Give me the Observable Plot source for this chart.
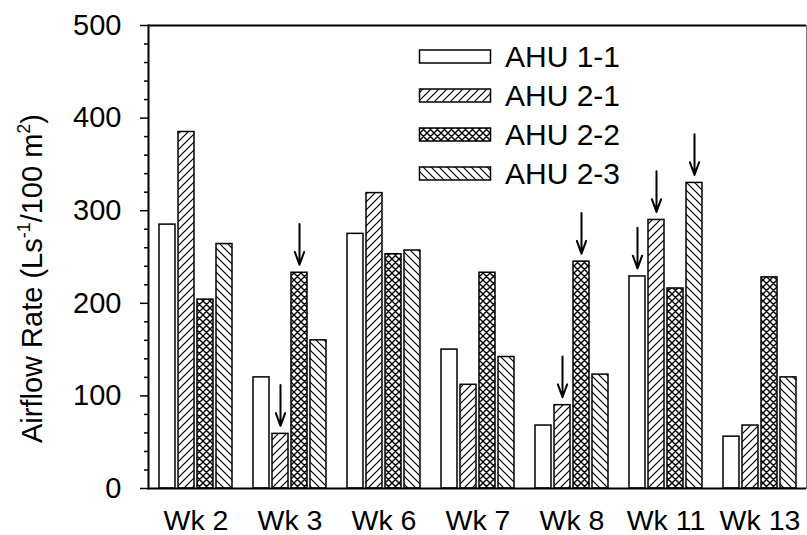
<!DOCTYPE html>
<html>
<head>
<meta charset="utf-8">
<script src="https://cdn.jsdelivr.net/npm/d3@7"></script>
<script src="https://cdn.jsdelivr.net/npm/@observablehq/plot@0.6"></script>
<style>
  html, body { margin: 0; padding: 0; background: white; }
  #chart { width: 807px; height: 535px; overflow: hidden; }
</style>
</head>
<body>
<div id="chart"></div>
<script>
const weeks = ["Wk 2", "Wk 3", "Wk 6", "Wk 7", "Wk 8", "Wk 11", "Wk 13"];
const series = ["AHU 1-1", "AHU 2-1", "AHU 2-2", "AHU 2-3"];
const ahu11 = [285, 120, 275, 150, 68, 229, 56];
const ahu21 = [385, 59, 319, 112, 90, 290, 68];
const ahu22 = [204, 233, 253, 233, 245, 216, 228];
const ahu23 = [264, 160, 257, 142, 123, 330, 120];
const arrowWeeks = ["Wk 3", "Wk 3", "Wk 8", "Wk 8", "Wk 11", "Wk 11", "Wk 11"];
const arrowSeries = ["AHU 2-1", "AHU 2-2", "AHU 2-1", "AHU 2-2", "AHU 1-1", "AHU 2-1", "AHU 2-3"];
const yTicks = [0, 100, 200, 300, 400, 500];
const yMinorTicks = d3.range(0, 501, 20).filter(v => v % 100 !== 0);

const valuesBySeries = [ahu11, ahu21, ahu22, ahu23];
const rows = [];
series.forEach((s, i) => weeks.forEach((w, j) => rows.push({week: w, series: s, value: valuesBySeries[i][j]})));
const arrows = arrowWeeks.map((w, k) => rows.find(r => r.week === w && r.series === arrowSeries[k]));

const FONT = "'Liberation Sans', Arial, Helvetica, sans-serif";
const BAND = 73, BARW = 16, STEP = 19;

const marks = [];
series.forEach((s, i) => {
  marks.push(Plot.barY(rows.filter(r => r.series === s), {
    x: "week", y: "value",
    fill: `url(#pat${i})`, stroke: "black", strokeWidth: 1.5,
    insetLeft: i * STEP, insetRight: BAND - i * STEP - BARW
  }));
});
series.forEach((s, i) => {
  const data = arrows.filter(a => a.series === s);
  if (!data.length) return;
  marks.push(Plot.arrow(data, {
    x: "week",
    y1: d => d.value + 44, y2: d => d.value,
    dx: i * STEP + BARW / 2 - BAND / 2, dy: -8,
    stroke: "black", strokeWidth: 2, headLength: 20, headAngle: 40
  }));
});

const plot = Plot.plot({
  width: 807, height: 535,
  marginLeft: 148, marginRight: 1, marginTop: 25, marginBottom: 47,
  style: {fontFamily: FONT, background: "white", color: "black", overflow: "visible"},
  x: {domain: weeks, paddingInner: 0.226, paddingOuter: 0.106, axis: null},
  y: {domain: [0, 500], axis: null},
  marks: [
    ...marks,
    Plot.ruleY([0], {stroke: "black", strokeWidth: 2}),
    Plot.ruleY([500], {stroke: "black", strokeWidth: 2}),
    Plot.frame({anchor: "left", stroke: "black", strokeWidth: 2}),
    Plot.frame({anchor: "right", stroke: "#777", strokeWidth: 1}),
    Plot.axisY(yTicks, {tickSize: 8, tickPadding: 19, fontSize: 29, strokeWidth: 1.5, label: null}),
    Plot.axisY(yMinorTicks, {tickSize: 4, tickFormat: () => "", strokeWidth: 1.5, label: null}),
    Plot.axisX({tickSize: 0, tickPadding: 21, fontSize: 28.5, label: null})
  ]
});
document.getElementById("chart").appendChild(plot);

const svg = d3.select(plot);
const defs = svg.insert("defs", ":first-child");
function hatch(id, size, paths, sw) {
  const p = defs.append("pattern").attr("id", id).attr("patternUnits", "userSpaceOnUse")
    .attr("width", size).attr("height", size);
  p.append("rect").attr("width", size).attr("height", size).attr("fill", "white");
  p.append("path").attr("d", paths).attr("stroke", "black").attr("stroke-width", sw).attr("fill", "none");
}
hatch("pat0", 8, "", 1);
hatch("pat1", 8, "M-2,2 L2,-2 M0,8 L8,0 M6,10 L10,6", 1.2);
hatch("pat2", 7, "M-2,2 L2,-2 M0,7 L7,0 M5,9 L9,5 M-2,5 L2,9 M0,0 L7,7 M5,-2 L9,2", 1.4);
hatch("pat3", 8, "M-2,6 L2,10 M0,0 L8,8 M6,-2 L10,2", 1.2);

// legend
const lg = svg.append("g").attr("font-family", FONT).attr("font-size", 30).attr("text-anchor", "start");
series.forEach((s, i) => {
  const cy = 56.5 + i * 39;
  lg.append("rect").attr("x", 419.5).attr("y", cy - 6.5).attr("width", 71).attr("height", 13)
    .attr("fill", `url(#pat${i})`).attr("stroke", "black").attr("stroke-width", 1.5);
  lg.append("text").attr("x", 505).attr("y", cy + 10.5).attr("fill", "black").text(s);
});

// y axis title with superscripts
const yt = svg.append("text").attr("font-family", FONT).attr("font-size", 29).attr("fill", "black")
  .attr("transform", "translate(42,443) rotate(-90)").attr("text-anchor", "start");
yt.append("tspan").text("Airflow Rate (Ls");
yt.append("tspan").attr("font-size", 18).attr("dy", -12).text("-1");
yt.append("tspan").attr("dy", 12).text("/100 m");
yt.append("tspan").attr("font-size", 18).attr("dy", -12).text("2");
yt.append("tspan").attr("dy", 12).text(")");
</script>
</body>
</html>
